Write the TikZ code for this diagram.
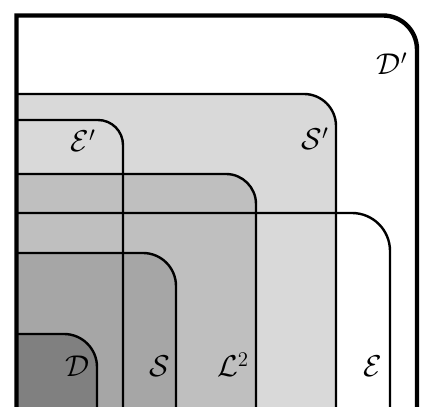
\documentclass[tikz,border=0pt]{standalone}
\usepackage{amsmath}
\usetikzlibrary{positioning}

\begin{document}
\begin{tikzpicture}[x=1pt, y=1pt]
\tikzstyle{region} = [draw=black, line width=2.4pt]
\tikzstyle{outer} = [draw=black, line width=4.4pt]
\tikzstyle{lbl} = [inner sep=0pt, anchor=base, font=\huge, scale=1.45, transform shape]

    \useasboundingbox (0,0) rectangle (421,407);
    \clip (0,0) rectangle (421,407);

    % fills, outermost first
    \fill[white] (16.5,-10) -- (16.5,391.5) -- (383,391.5) arc[start angle=90, end angle=0, radius=34] -- (417,-10) -- cycle;
    \fill[black!15] (16.5,-10) -- (16.5,313) -- (304,313) arc[start angle=90, end angle=0, radius=32] -- (336,-10) -- cycle;
    \fill[black!25] (16.5,-10) -- (16.5,233) -- (226,233) arc[start angle=90, end angle=0, radius=30] -- (256,-10) -- cycle;
    \fill[black!35] (16.5,-10) -- (16.5,154) -- (143,154) arc[start angle=90, end angle=0, radius=33] -- (176,-10) -- cycle;
    \fill[black!50] (16.5,-10) -- (16.5,73) -- (64,73) arc[start angle=90, end angle=0, radius=33] -- (97,-10) -- cycle;

    % outlines
    \path [region] (16.5,313) -- (304,313) arc[start angle=90, end angle=0, radius=32] -- (336,-10);
    \path [region] (16.5,287) -- (98,287) arc[start angle=90, end angle=0, radius=25] -- (123,-10);
    \path [region] (16.5,233) -- (226,233) arc[start angle=90, end angle=0, radius=30] -- (256,-10);
    \path [region] (16.5,194) -- (352,194) arc[start angle=90, end angle=0, radius=38] -- (390,-10);
    \path [region] (16.5,154) -- (143,154) arc[start angle=90, end angle=0, radius=33] -- (176,-10);
    \path [region] (16.5,73) -- (64,73) arc[start angle=90, end angle=0, radius=33] -- (97,-10);
    \path [outer] (16.5,-10) -- (16.5,391.5) -- (383,391.5) arc[start angle=90, end angle=0, radius=34] -- (417,-10);

    % labels
    \node [lbl] (dprime) at (392,332) {$\mathcal{D}'$};
    \node [lbl] (sprime) at (315,257) {$\mathcal{S}'$};
    \node [lbl] (eprime) at (83,255) {$\mathcal{E}'$};
    \node [lbl] (d) at (78,30) {$\mathcal{D}$};
    \node [lbl] (s) at (160,30) {$\mathcal{S}$};
    \node [lbl] (l2) at (233,30) {$\mathcal{L}^2$};
    \node [lbl] (e) at (373,30) {$\mathcal{E}$};
\end{tikzpicture}
\end{document}
